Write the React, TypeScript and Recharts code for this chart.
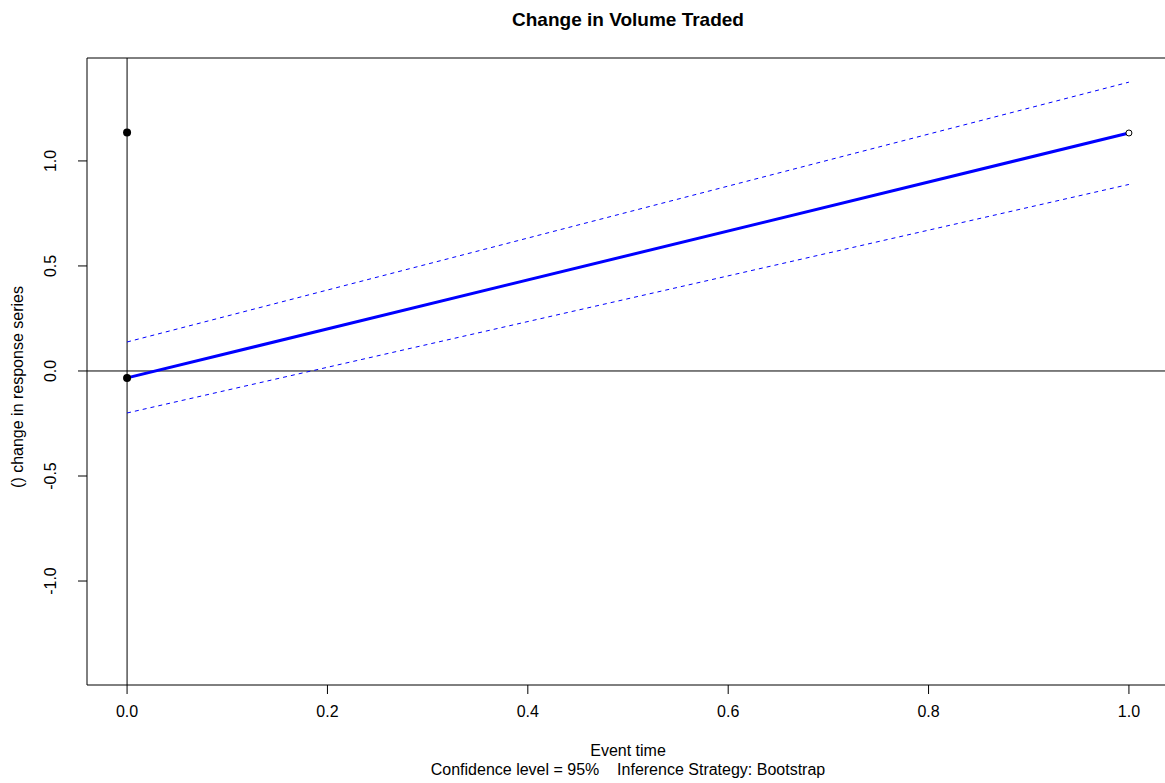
import React from "react";
import {
  ComposedChart,
  Line,
  Scatter,
  XAxis,
  YAxis,
  ReferenceLine,
} from "recharts";

// event-time estimates
const eventTime = [0, 1];
const estimate = [-0.033, 1.133];
const upperCI = [0.138, 1.375];
const lowerCI = [-0.2, 0.888];

// raw points drawn by the original plot
const filledPoints = [
  { x: 0, y: 1.135 },
  { x: 0, y: -0.033 },
];
const openPoints = [{ x: 1, y: 1.133 }];

const xTicks = [0, 0.2, 0.4, 0.6, 0.8, 1.0];
const yTicks = [-1.0, -0.5, 0, 0.5, 1.0];

const toRows = (ys: number[]) => eventTime.map((x, i) => ({ x, y: ys[i] }));
const estRows = toRows(estimate);
const upRows = toRows(upperCI);
const loRows = toRows(lowerCI);

const FONT = "'Liberation Sans', Arial, sans-serif";

const YTick = (props: any) => {
  const { x, y, payload } = props;
  return (
    <text
      x={x - 20}
      y={y}
      transform={`rotate(-90, ${x - 20}, ${y})`}
      textAnchor="middle"
      fontSize={16}
      fontFamily={FONT}
      fill="#000"
    >
      {payload.value.toFixed(1)}
    </text>
  );
};

const OpenDot = (props: any) => (
  <circle cx={props.cx} cy={props.cy} r={3} fill="#fff" stroke="#000" strokeWidth={1} />
);
const FilledDot = (props: any) => (
  <circle cx={props.cx} cy={props.cy} r={4} fill="#000" />
);

export default function App() {
  return (
    <div style={{ position: "absolute", left: 0, top: 0, width: 1165, height: 783, background: "#fff", fontFamily: FONT, overflow: "hidden" }}>
      <div style={{ position: "absolute", top: 9, left: 87, width: 1082, textAlign: "center", fontWeight: "bold", fontSize: 19 }}>
        Change in Volume Traded
      </div>
      <ComposedChart
        width={1165}
        height={783}
        margin={{ top: 58, right: 0, bottom: 0, left: 27 }}
      >
        <XAxis
          type="number"
          dataKey="x"
          domain={[-0.04, 1.036]}
          ticks={xTicks}
          allowDataOverflow
          tickFormatter={(v: number) => v.toFixed(1)}
          tick={{ fontSize: 16, fill: "#000", fontFamily: FONT }}
          tickSize={9}
          tickMargin={12}
          stroke="#000"
          height={98}
        />
        <YAxis
          type="number"
          dataKey="y"
          domain={[-1.495, 1.49]}
          ticks={yTicks}
          allowDataOverflow
          tick={<YTick />}
          tickSize={9}
          stroke="#000"
          width={60}
        />
        <ReferenceLine y={1.49} stroke="#000" ifOverflow="visible" />
        <ReferenceLine x={0} stroke="#000" />
        <ReferenceLine y={0} stroke="#000" />
        <Line data={upRows} dataKey="y" stroke="#0000ff" strokeWidth={1} strokeDasharray="4 4" dot={false} isAnimationActive={false} />
        <Line data={loRows} dataKey="y" stroke="#0000ff" strokeWidth={1} strokeDasharray="4 4" dot={false} isAnimationActive={false} />
        <Line data={estRows} dataKey="y" stroke="#0000ff" strokeWidth={3} dot={false} isAnimationActive={false} />
        <Scatter data={filledPoints} dataKey="y" shape={<FilledDot />} isAnimationActive={false} />
        <Scatter data={openPoints} dataKey="y" shape={<OpenDot />} isAnimationActive={false} />
      </ComposedChart>
      <div style={{ position: "absolute", left: 10, top: 387, width: 0, height: 0 }}>
        <div style={{ position: "absolute", transform: "translate(-50%, -50%) rotate(-90deg)", whiteSpace: "nowrap", fontSize: 16, left: 8 }}>
          () change in response series
        </div>
      </div>
      <div style={{ position: "absolute", top: 742, left: 87, width: 1082, textAlign: "center", fontSize: 16 }}>
        Event time
      </div>
      <div style={{ position: "absolute", top: 761, left: 87, width: 1082, textAlign: "center", fontSize: 16, whiteSpace: "pre" }}>
        {"Confidence level = 95%    Inference Strategy: Bootstrap"}
      </div>
    </div>
  );
}
